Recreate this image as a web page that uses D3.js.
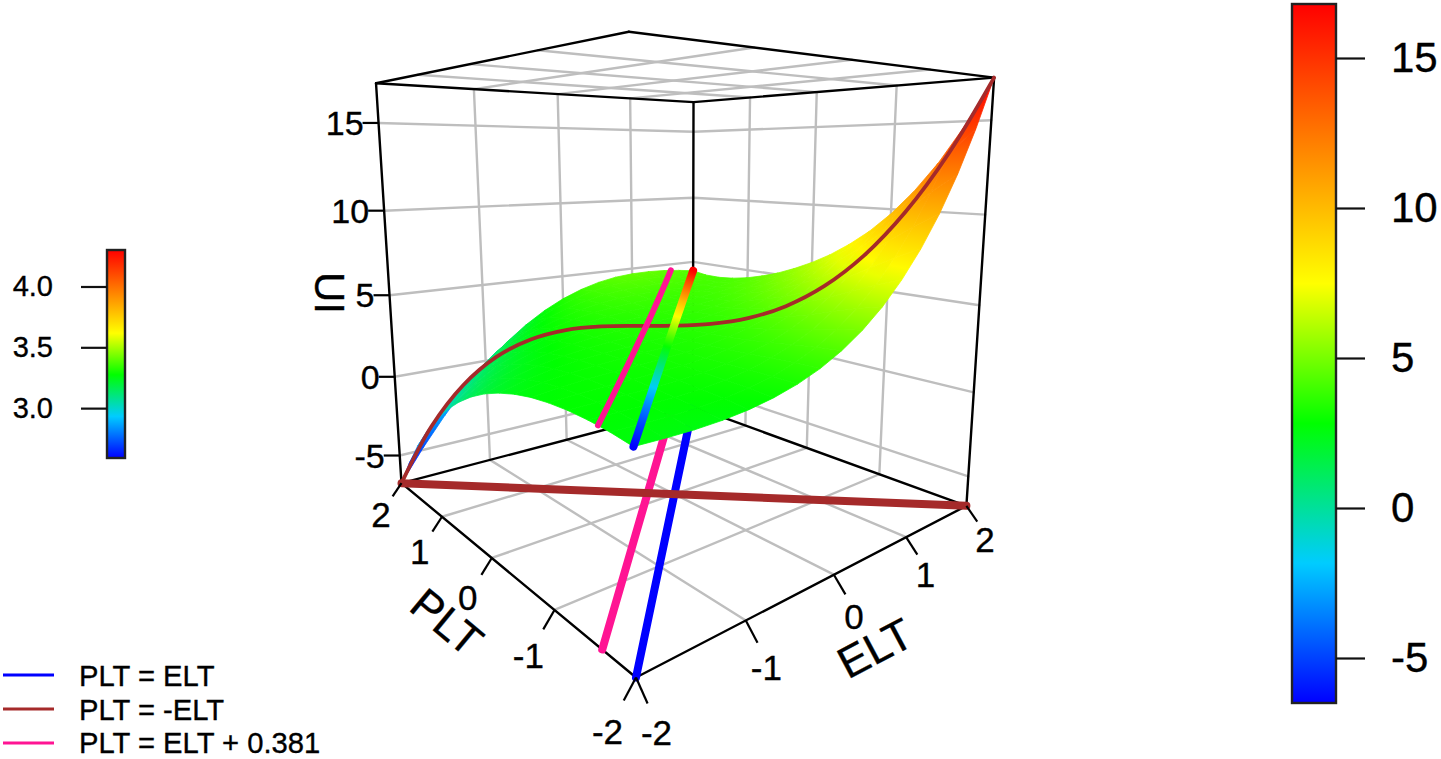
<!DOCTYPE html>
<meta charset="utf-8">
<style>
body { margin: 0; background: #fff; }
text { font-family: "Liberation Sans", Arial, sans-serif; fill: #000; stroke: #000; stroke-width: 0.35px; }
</style>
<script src="https://d3js.org/d3.v7.min.js"></script>
<div id="chart"></div>
<script>
var rampColors = ["#0000ff", "#00ccff", "#00ff00", "#ffff00", "#ff8000", "#ff0000"];
var xyTicks = [-2, -1, 0, 1, 2];
var zTicks = [-5, 0, 5, 10, 15];
var miniTicks = [3.0, 3.5, 4.0];
var zBox = [-6.8, 17.2];
var zRange = [-6.5, 16.8];
var miniRange = [2.59, 4.30];
var legendLabels = ["PLT = ELT", "PLT = -ELT", "PLT = ELT + 0.381"];
var legendColors = ["#0000ff", "#a52a2a", "#ff1493"];

var gridE = [-2, -1.75, -1.5, -1.25, -1, -0.75, -0.5, -0.25, 0, 0.25, 0.5, 0.75, 1, 1.25, 1.5, 1.75, 2];
// heights: rows are PLT from -2 to 2, columns are ELT from -2 to 2
var heights = [
  [2.58, 2.55, 2.55, 2.61, 2.74, 2.96, 3.28, 3.72, 4.31, 5.06, 6.00, 7.17, 8.57, 10.24, 12.22, 14.53, 17.20],
  [2.73, 2.70, 2.71, 2.76, 2.86, 3.04, 3.30, 3.68, 4.19, 4.85, 5.69, 6.72, 7.98, 9.48, 11.24, 13.25, 14.78],
  [2.81, 2.81, 2.82, 2.86, 2.94, 3.08, 3.30, 3.61, 4.03, 4.59, 5.31, 6.20, 7.29, 8.59, 10.11, 11.52, 12.76],
  [2.83, 2.87, 2.90, 2.94, 3.01, 3.11, 3.28, 3.53, 3.87, 4.33, 4.92, 5.67, 6.59, 7.70, 8.87, 10.05, 11.10],
  [2.78, 2.88, 2.95, 3.00, 3.06, 3.14, 3.27, 3.46, 3.73, 4.09, 4.57, 5.19, 5.95, 6.85, 7.83, 8.82, 9.72],
  [2.66, 2.83, 2.95, 3.03, 3.09, 3.17, 3.27, 3.41, 3.61, 3.89, 4.27, 4.76, 5.40, 6.14, 6.96, 7.80, 8.57],
  [2.45, 2.72, 2.90, 3.03, 3.12, 3.20, 3.28, 3.39, 3.54, 3.74, 4.03, 4.43, 4.94, 5.55, 6.24, 6.95, 7.63],
  [2.15, 2.54, 2.81, 2.99, 3.12, 3.22, 3.30, 3.39, 3.50, 3.65, 3.87, 4.18, 4.58, 5.07, 5.64, 6.25, 6.83],
  [1.76, 2.28, 2.65, 2.92, 3.10, 3.23, 3.33, 3.42, 3.50, 3.61, 3.76, 3.99, 4.29, 4.69, 5.15, 5.66, 6.17],
  [1.25, 1.93, 2.42, 2.78, 3.04, 3.23, 3.36, 3.45, 3.53, 3.61, 3.71, 3.86, 4.08, 4.38, 4.75, 5.17, 5.61],
  [0.61, 1.47, 2.11, 2.58, 2.93, 3.19, 3.37, 3.50, 3.58, 3.65, 3.71, 3.80, 3.94, 4.15, 4.43, 4.77, 5.13],
  [-0.17, 0.89, 1.69, 2.30, 2.76, 3.11, 3.36, 3.53, 3.65, 3.73, 3.77, 3.81, 3.88, 4.01, 4.20, 4.45, 4.75],
  [-1.11, 0.18, 1.15, 1.91, 2.50, 2.96, 3.30, 3.55, 3.71, 3.82, 3.88, 3.90, 3.92, 3.96, 4.06, 4.23, 4.44],
  [-2.22, -0.70, 0.46, 1.39, 2.13, 2.71, 3.17, 3.51, 3.75, 3.91, 4.00, 4.04, 4.04, 4.02, 4.02, 4.10, 4.23],
  [-3.52, -1.76, -0.41, 0.69, 1.60, 2.34, 2.94, 3.40, 3.74, 3.98, 4.13, 4.20, 4.21, 4.17, 4.11, 4.08, 4.12],
  [-5.04, -3.07, -1.54, -0.25, 0.86, 1.79, 2.55, 3.17, 3.65, 4.00, 4.23, 4.36, 4.41, 4.39, 4.31, 4.21, 4.13],
  [-6.80, -4.86, -3.11, -1.56, -0.21, 0.96, 1.95, 2.77, 3.42, 3.91, 4.27, 4.50, 4.61, 4.63, 4.58, 4.46, 4.30]
];
var pinkE = [-2, -1.774, -1.548, -1.322, -1.096, -0.87, -0.644, -0.418, -0.192, 0.034, 0.26, 0.486, 0.712, 0.938, 1.164, 1.39, 1.619];
var pinkZ = [2.78, 2.84, 2.91, 2.99, 3.07, 3.16, 3.26, 3.36, 3.46, 3.57, 3.69, 3.82, 3.95, 4.08, 4.22, 4.37, 4.53];
var pinkShift = 0.381;

var W = 1441, H = 759;
var svg = d3.select("#chart").append("svg").attr("width", W).attr("height", H);
var defs = svg.append("defs");

// box corners on screen, used to fit the perspective
var calib = [
  [-2,-2,zBox[0],637,678],[2,-2,zBox[0],966,505],[-2,2,zBox[0],401,483],[2,2,zBox[0],693,407],
  [-2,-2,zBox[1],627,32],[2,-2,zBox[1],995,78],[-2,2,zBox[1],377,83],[2,2,zBox[1],693,102]
];
function solve(A, b) {
  var n = b.length, M = A.map(function(r, i) { return r.concat(b[i]); });
  for (var i = 0; i < n; i++) {
    var m = i;
    for (var k = i + 1; k < n; k++) if (Math.abs(M[k][i]) > Math.abs(M[m][i])) m = k;
    var tmp = M[i]; M[i] = M[m]; M[m] = tmp;
    for (k = i + 1; k < n; k++) {
      var f = M[k][i] / M[i][i];
      for (var j = i; j <= n; j++) M[k][j] -= f * M[i][j];
    }
  }
  var out = new Array(n);
  for (i = n - 1; i >= 0; i--) {
    var v = M[i][n];
    for (j = i + 1; j < n; j++) v -= M[i][j] * out[j];
    out[i] = v / M[i][i];
  }
  return out;
}
function norm(E, P, Z) { return [E / 2, P / 2, (Z - 5) / 12, 1]; }
var cam = (function() {
  var rows = [], rhs = [];
  calib.forEach(function(c) {
    var X = norm(c[0], c[1], c[2]);
    rows.push([X[0],X[1],X[2],1,0,0,0,0,-c[3]*X[0],-c[3]*X[1],-c[3]*X[2]]); rhs.push(c[3]);
    rows.push([0,0,0,0,X[0],X[1],X[2],1,-c[4]*X[0],-c[4]*X[1],-c[4]*X[2]]); rhs.push(c[4]);
  });
  var AtA = d3.range(11).map(function(i) { return d3.range(11).map(function(j) { return d3.sum(rows, function(r) { return r[i] * r[j]; }); }); });
  var Atb = d3.range(11).map(function(i) { return d3.sum(rows, function(r, k) { return r[i] * rhs[k]; }); });
  return solve(AtA, Atb);
})();
function depth(E, P, Z) { var X = norm(E, P, Z); return cam[8]*X[0] + cam[9]*X[1] + cam[10]*X[2] + 1; }
function proj(E, P, Z) {
  var X = norm(E, P, Z), w = depth(E, P, Z);
  return [(cam[0]*X[0] + cam[1]*X[1] + cam[2]*X[2] + cam[3]) / w, (cam[4]*X[0] + cam[5]*X[1] + cam[6]*X[2] + cam[7]) / w];
}
var farSign = depth(2, 2, 5) > depth(-2, -2, 5) ? 1 : -1;

function ramp(range) {
  return d3.scaleLinear()
    .domain(rampColors.map(function(c, i) { return range[0] + (range[1] - range[0]) * i / 5; }))
    .range(rampColors)
    .clamp(true);
}
var zColor = ramp(zRange), miniColor = ramp(miniRange);

var seg = d3.line();
var smooth = d3.line().curve(d3.curveCatmullRom);
function line3d(g, pts, color, width, gen) {
  return g.append("path").attr("d", (gen || seg)(pts.map(function(p) { return proj(p[0], p[1], p[2]); })))
    .attr("fill", "none").attr("stroke", color).attr("stroke-width", width).attr("stroke-linecap", "round").attr("stroke-linejoin", "round");
}

// grid on the walls, floor and lid
var back = svg.append("g");
var z0 = zBox[0], z1 = zBox[1], inner = [-1, 0, 1];
zTicks.forEach(function(z) {
  line3d(back, [[-2,2,z],[2,2,z],[2,-2,z]], "#bebebe", 2.4);
});
inner.forEach(function(v) {
  line3d(back, [[v,2,z0],[v,2,z1]], "#bebebe", 2.4);
  line3d(back, [[2,v,z0],[2,v,z1]], "#bebebe", 2.4);
  [z0, z1].forEach(function(z) {
    line3d(back, [[v,-2,z],[v,2,z]], "#bebebe", 2.4);
    line3d(back, [[-2,v,z],[2,v,z]], "#bebebe", 2.4);
  });
});
// box
var boxEdges = [
  [[-2,2,z0],[2,2,z0]], [[2,2,z0],[2,-2,z0]], [[2,2,z0],[2,2,z1]],
  [[-2,2,z0],[-2,2,z1]], [[2,-2,z0],[2,-2,z1]],
  [[-2,2,z1],[2,2,z1]], [[2,2,z1],[2,-2,z1]], [[2,-2,z1],[-2,-2,z1]], [[-2,-2,z1],[-2,2,z1]],
  [[-2,-2,z0],[2,-2,z0]], [[-2,-2,z0],[-2,2,z0]]
];
boxEdges.forEach(function(e) { line3d(back, e, "#000", 2.4); });

// lines on the floor
var floor = svg.append("g");
line3d(floor, [[-2,-2+pinkShift,z0],[2-pinkShift,2,z0]], legendColors[2], 8);
line3d(floor, [[-2,-2,z0],[2,2,z0]], legendColors[0], 8);
line3d(floor, [[-2,2,z0],[2,-2,z0]], legendColors[1], 8);

// surface, far cells first
var cells = [];
d3.range(16).forEach(function(r) {
  d3.range(16).forEach(function(c) {
    var corners = [[c,r],[c+1,r],[c+1,r+1],[c,r+1]].map(function(k) {
      return {E: gridE[k[0]], P: gridE[k[1]], z: heights[k[1]][k[0]]};
    });
    var pts = corners.map(function(k) { return proj(k.E, k.P, k.z); });
    cells.push({corners: corners, pts: pts, d: d3.mean(corners, function(k) { return depth(k.E, k.P, k.z); }) * farSign});
  });
});
cells.sort(function(a, b) { return b.d - a.d; });
var surface = svg.append("g");
cells.forEach(function(cell, i) {
  var v = cell.corners.map(function(k) { return k.z; }), p = cell.pts;
  var cx = d3.mean(p, function(q) { return q[0]; }), cy = d3.mean(p, function(q) { return q[1]; }), vc = d3.mean(v);
  var d1 = [p[2][0]-p[0][0], p[2][1]-p[0][1]], d2 = [p[3][0]-p[1][0], p[3][1]-p[1][1]];
  var dz1 = v[2]-v[0], dz2 = v[3]-v[1], det = d1[0]*d2[1]-d1[1]*d2[0];
  var paint = zColor(vc);
  if (Math.abs(det) > 4) {
    var gx = (dz1*d2[1]-dz2*d1[1])/det, gy = (d1[0]*dz2-d2[0]*dz1)/det, g2 = gx*gx+gy*gy;
    var lo = d3.min(v), hi = d3.max(v);
    if (g2 > 1e-9 && hi - lo > 1e-6) {
      var id = "c" + i;
      var grad = defs.append("linearGradient").attr("id", id).attr("gradientUnits", "userSpaceOnUse")
        .attr("x1", cx + gx/g2*(lo-vc)).attr("y1", cy + gy/g2*(lo-vc))
        .attr("x2", cx + gx/g2*(hi-vc)).attr("y2", cy + gy/g2*(hi-vc));
      [0, .5, 1].forEach(function(o) {
        grad.append("stop").attr("offset", o).attr("stop-color", zColor(lo + (hi-lo)*o));
      });
      paint = "url(#" + id + ")";
    }
  }
  surface.append("path").attr("d", seg(p) + "Z").attr("fill", paint).attr("stroke", paint).attr("stroke-width", 0.8).attr("stroke-linejoin", "round");
});

// lines on the surface
var onSurf = svg.append("g");
var congr = gridE.map(function(E, i) { return [E, E, heights[i][i]]; });
var incon = gridE.map(function(E, i) { return [E, -E, heights[16 - i][i]]; });
var pink = pinkE.map(function(E, i) { return [E, E + pinkShift, pinkZ[i]]; });
var a = proj.apply(null, congr[0]), b = proj.apply(null, congr[16]);
var cgrad = defs.append("linearGradient").attr("id", "congr").attr("gradientUnits", "userSpaceOnUse")
  .attr("x1", a[0]).attr("y1", a[1]).attr("x2", b[0]).attr("y2", b[1]);
var len2 = (b[0]-a[0])*(b[0]-a[0]) + (b[1]-a[1])*(b[1]-a[1]);
congr.forEach(function(p) {
  var q = proj(p[0], p[1], p[2]);
  cgrad.append("stop").attr("offset", ((q[0]-a[0])*(b[0]-a[0]) + (q[1]-a[1])*(b[1]-a[1])) / len2).attr("stop-color", miniColor(p[2]));
});
line3d(onSurf, incon, legendColors[1], 3.8, smooth);
line3d(onSurf, pink, legendColors[2], 6, smooth);
line3d(onSurf, congr, "url(#congr)", 8, smooth);

// axis ticks and labels
var axes = svg.append("g");
function addTick(t0, t1, t2, label) {
  axes.append("line").attr("x1", t0[0]).attr("y1", t0[1]).attr("x2", t1[0]).attr("y2", t1[1]).attr("stroke", "#000").attr("stroke-width", 2.2);
  axes.append("text").attr("x", t2[0]).attr("y", t2[1]).attr("text-anchor", "middle").attr("dominant-baseline", "central").attr("font-size", 35).text(label);
}
xyTicks.forEach(function(v) {
  addTick(proj(v, -2, z0), proj(v, -2.12, z0 - .7), proj(v, -2.21, z0 - 1.6), v);
  addTick(proj(-2, v, z0), proj(-2.1, v, z0 - .7), proj(-2.23, v, z0 - 1.65), v);
});
zTicks.forEach(function(z) {
  var t0 = proj(-2, 2, z);
  axes.append("line").attr("x1", t0[0]).attr("y1", t0[1]).attr("x2", t0[0] - 16).attr("y2", t0[1]).attr("stroke", "#000").attr("stroke-width", 2.2);
  axes.append("text").attr("x", t0[0] - 15).attr("y", t0[1]).attr("text-anchor", "end").attr("dominant-baseline", "central").attr("font-size", 34).text(z);
});
axes.append("text").attr("transform", "translate(447,622) rotate(39.6)").attr("text-anchor", "middle").attr("dominant-baseline", "central").attr("font-size", 44).text("PLT");
axes.append("text").attr("transform", "translate(875,648) rotate(-28)").attr("text-anchor", "middle").attr("dominant-baseline", "central").attr("font-size", 44).text("ELT");
axes.append("text").attr("transform", "translate(329,293) rotate(90)").attr("text-anchor", "middle").attr("dominant-baseline", "central").attr("font-size", 42).text("UI");

// colour bars
function colorbar(id, range, x0, x1, y0, y1, ticks, tickLen, fontSize, fmt, left) {
  var y = d3.scaleLinear().domain(range).range([y1, y0]);
  var grad = defs.append("linearGradient").attr("id", id).attr("x1", 0).attr("y1", 1).attr("x2", 0).attr("y2", 0);
  rampColors.forEach(function(c, i) { grad.append("stop").attr("offset", i / 5).attr("stop-color", c); });
  var g = svg.append("g");
  g.append("rect").attr("x", x0).attr("y", y0).attr("width", x1 - x0).attr("height", y1 - y0)
    .attr("fill", "url(#" + id + ")").attr("stroke", "#222").attr("stroke-width", 2.4);
  var ax = (left ? d3.axisLeft(y) : d3.axisRight(y)).tickValues(ticks).tickSize(tickLen).tickSizeOuter(0).tickPadding(left ? 28 : 26).tickFormat(fmt);
  var ag = g.append("g").attr("transform", "translate(" + (left ? x0 : x1) + ",0)").call(ax);
  ag.select(".domain").remove();
  ag.selectAll("line").attr("stroke", "#111").attr("stroke-width", 2.2);
  ag.selectAll("text").attr("font-size", fontSize);
}
colorbar("barMain", zRange, 1292, 1336, 4, 703, zTicks, 29, 42, function(d) { return String(d); }, false);
colorbar("barMini", miniRange, 107, 125, 250, 458, miniTicks, 26, 29, function(d) { return d.toFixed(1); }, true);

// legend
var legend = svg.append("g");
legendLabels.forEach(function(d, i) {
  var y = [675, 709, 743][i];
  legend.append("line").attr("x1", 3).attr("x2", 54).attr("y1", y).attr("y2", y).attr("stroke", legendColors[i]).attr("stroke-width", 3);
  legend.append("text").attr("x", 79).attr("y", [686, 720, 752.5][i]).attr("font-size", 29.2).text(d);
});
</script>
